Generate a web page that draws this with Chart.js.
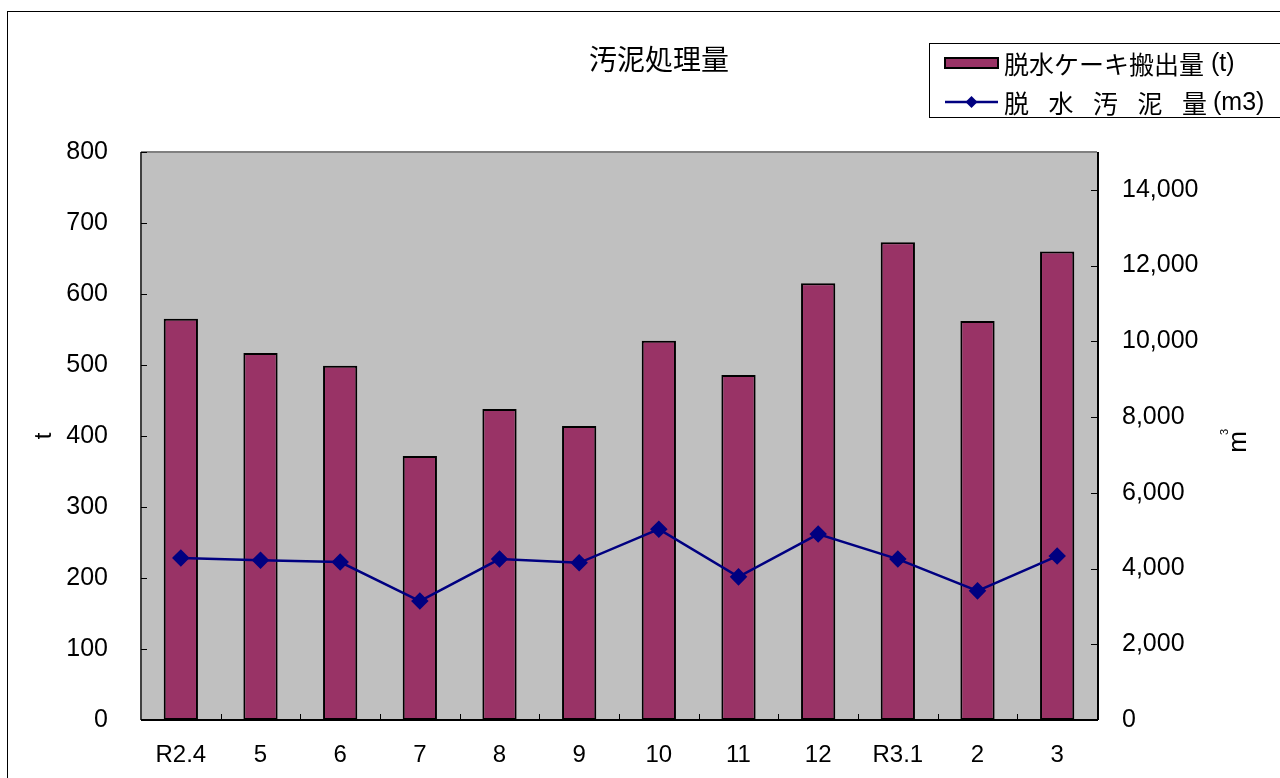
<!DOCTYPE html>
<html>
<head>
<meta charset="utf-8">
<script src="https://cdn.jsdelivr.net/npm/chart.js@4.4.1/dist/chart.umd.min.js"></script>
<style>
  html, body { margin: 0; padding: 0; background: #fff; }
  #wrap { width: 1280px; height: 778px; position: relative; }
</style>
</head>
<body>
<div id="wrap"><canvas id="canvas"></canvas></div>
<script>
const months = ['R2.4', '5', '6', '7', '8', '9', '10', '11', '12', 'R3.1', '2', '3'];
// 脱水ケーキ搬出量 (t)
const cakeOut = [565, 517, 499, 372, 438, 414, 534, 486, 615, 673, 562, 660];
// 脱水汚泥量 (m3)
const sludgeVol = [4280, 4220, 4170, 3140, 4250, 4150, 5040, 3780, 4910, 4250, 3410, 4330];
// right axis tick values
const volTicks = [0, 2000, 4000, 6000, 8000, 10000, 12000, 14000];

const cakeLabel = '脱水ケーキ搬出量(t)';
const sludgeLabel = ['脱', '水', '汚', '泥', '量'];
const sludgeUnit = '(m3)';
const chartTitle = '汚泥処理量';
const leftTitle = 't';

const BAR_COLOR = '#993366';
const LINE_COLOR = '#000080';
const PLOT_BG = '#C0C0C0';
const JP_FONT = '"Noto Sans CJK JP", "Noto Sans", sans-serif';
const NUM_FONT = '"Liberation Sans", Arial, sans-serif';

// inward tick marks, plot frame, titles and legend
const decor = {
	id: 'decor',
	beforeDraw(chart) {
		const ctx = chart.ctx;
		const a = chart.chartArea;
		ctx.save();
		ctx.fillStyle = '#fff';
		ctx.fillRect(0, 0, chart.width, chart.height);
		ctx.strokeStyle = '#000';
		ctx.lineWidth = 1;
		ctx.strokeRect(7.5, 11.5, chart.width + 20, chart.height + 20);
		ctx.fillStyle = PLOT_BG;
		ctx.fillRect(a.left, a.top, a.right - a.left, a.bottom - a.top);
		ctx.restore();
	},
	afterDraw(chart) {
		const ctx = chart.ctx;
		const a = chart.chartArea;
		const x = chart.scales.x, y = chart.scales.y, y2 = chart.scales.y2;
		ctx.save();
		// frame
		ctx.lineWidth = 2;
		ctx.strokeStyle = '#808080';
		ctx.beginPath();
		ctx.moveTo(a.left, a.top); ctx.lineTo(a.right, a.top);
		ctx.stroke();
		ctx.strokeStyle = '#404040';
		ctx.beginPath();
		ctx.moveTo(a.left, a.top); ctx.lineTo(a.left, a.bottom);
		ctx.stroke();
		ctx.strokeStyle = '#000';
		ctx.beginPath();
		ctx.moveTo(a.left, a.bottom); ctx.lineTo(a.right + 1, a.bottom);
		ctx.moveTo(a.right + 1, a.top); ctx.lineTo(a.right + 1, a.bottom);
		ctx.stroke();
		// ticks
		ctx.lineWidth = 1;
		ctx.strokeStyle = '#000';
		ctx.beginPath();
		y.ticks.forEach(t => {
			const py = Math.round(y.getPixelForValue(t.value)) + 0.5;
			ctx.moveTo(a.left, py); ctx.lineTo(a.left + 6, py);
		});
		y2.ticks.forEach(t => {
			const py = Math.round(y2.getPixelForValue(t.value)) + 0.5;
			ctx.moveTo(a.right + 1, py); ctx.lineTo(a.right - 6, py);
		});
		for (let i = 1; i < months.length; i++) {
			const px = Math.round((x.getPixelForValue(i - 1) + x.getPixelForValue(i)) / 2) + 0.5;
			ctx.moveTo(px, a.bottom); ctx.lineTo(px, a.bottom - 6);
		}
		ctx.stroke();

		// chart title
		ctx.fillStyle = '#000';
		ctx.font = '28px ' + JP_FONT;
		ctx.textAlign = 'center';
		ctx.textBaseline = 'middle';
		ctx.fillText(chartTitle, 659, 59);

		// axis titles
		ctx.font = '24px ' + NUM_FONT;
		ctx.save();
		ctx.translate(44, (a.top + a.bottom) / 2);
		ctx.rotate(-Math.PI / 2);
		ctx.fillText(leftTitle, 0, 0);
		ctx.restore();
		ctx.save();
		ctx.translate(1239, 442);
		ctx.rotate(-Math.PI / 2);
		ctx.font = '26px ' + NUM_FONT;
		ctx.fillText('m', 0, 0);
		ctx.font = '11px ' + NUM_FONT;
		ctx.fillText('3', 10, -14);
		ctx.restore();

		// legend
		ctx.fillStyle = '#fff';
		ctx.fillRect(929, 43, 400, 74);
		ctx.strokeStyle = '#000';
		ctx.lineWidth = 1;
		ctx.strokeRect(929.5, 43.5, 400, 74);
		ctx.fillStyle = BAR_COLOR;
		ctx.fillRect(945, 58, 53, 10);
		ctx.lineWidth = 2;
		ctx.strokeRect(945, 58, 53, 10);
		ctx.strokeStyle = LINE_COLOR;
		ctx.lineWidth = 2.5;
		ctx.beginPath();
		ctx.moveTo(945, 102); ctx.lineTo(998, 102);
		ctx.stroke();
		ctx.fillStyle = LINE_COLOR;
		ctx.beginPath();
		ctx.moveTo(971.5, 96); ctx.lineTo(977.5, 102); ctx.lineTo(971.5, 108); ctx.lineTo(965.5, 102);
		ctx.closePath();
		ctx.fill();
		ctx.fillStyle = '#000';
		ctx.font = '25px ' + JP_FONT;
		ctx.textAlign = 'left';
		ctx.fillText('脱水ケーキ搬出量', 1004, 64);
		ctx.font = '25px ' + NUM_FONT;
		ctx.fillText('(t)', 1211, 64);
		ctx.font = '25px ' + JP_FONT;
		let lx = 1004;
		sludgeLabel.forEach(s => {
			ctx.fillText(s, lx, 103);
			lx += 44.5;
		});
		ctx.font = '25px ' + NUM_FONT;
		ctx.fillText(sludgeUnit, 1213, 103);
		ctx.restore();
	}
};

const ctx = document.getElementById('canvas').getContext('2d');
window.myChart = new Chart(ctx, {
	type: 'bar',
	data: {
		labels: months,
		datasets: [{
			type: 'bar',
			label: cakeLabel,
			data: cakeOut,
			backgroundColor: BAR_COLOR,
			borderColor: '#000',
			borderWidth: 2,
			borderSkipped: false,
			categoryPercentage: 1,
			barPercentage: 0.43,
			yAxisID: 'y',
			order: 2
		}, {
			type: 'line',
			label: '脱水汚泥量(m3)',
			data: sludgeVol,
			borderColor: LINE_COLOR,
			backgroundColor: LINE_COLOR,
			borderWidth: 2.5,
			pointStyle: 'rectRot',
			pointRadius: 7,
			pointHoverRadius: 7,
			tension: 0,
			yAxisID: 'y2',
			order: 1
		}]
	},
	options: {
		responsive: true,
		maintainAspectRatio: false,
		animation: false,
		layout: { padding: { top: 152, left: 0, right: 0, bottom: 0 } },
		plugins: {
			legend: { display: false },
			title: { display: false },
			tooltip: { enabled: false }
		},
		scales: {
			x: {
				grid: { display: false, drawTicks: false },
				border: { display: false },
				ticks: { color: '#000', font: { family: NUM_FONT, size: 24 }, padding: 21, maxRotation: 0 },
				afterFit(s) { s.height = 58; }
			},
			y: {
				position: 'left',
				min: 0,
				max: 800,
				ticks: { stepSize: 100, color: '#000', font: { family: NUM_FONT, size: 25 }, padding: 33 },
				grid: { display: false, drawTicks: false },
				border: { display: false },
				afterFit(s) { s.width = 141; }
			},
			y2: {
				position: 'right',
				min: 0,
				max: 15000,
				ticks: {
					color: '#000',
					font: { family: NUM_FONT, size: 25 },
					padding: 25,
					autoSkip: false,
					callback: v => v.toLocaleString('en-US')
				},
				afterBuildTicks(s) { s.ticks = volTicks.map(v => ({ value: v })); },
				grid: { display: false, drawTicks: false },
				border: { display: false },
				afterFit(s) { s.width = 183; }
			}
		}
	},
	plugins: [decor]
});
</script>
</body>
</html>
